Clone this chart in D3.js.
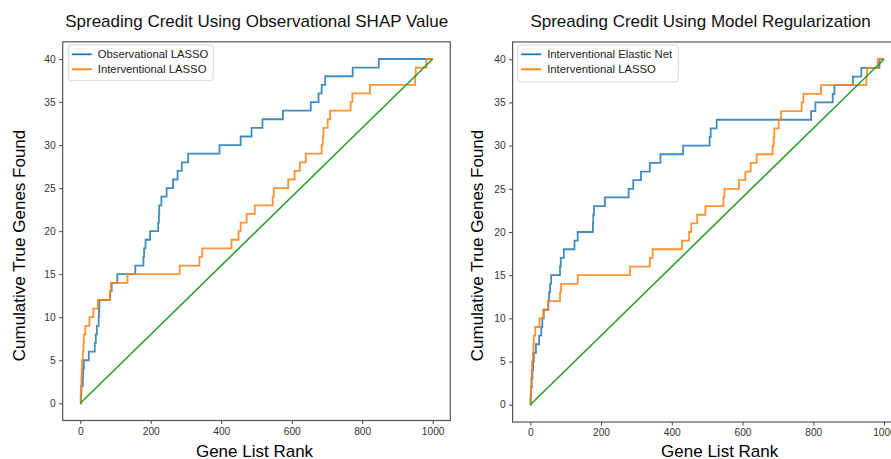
<!DOCTYPE html>
<html>
<head>
<meta charset="utf-8">
<script src="https://cdn.jsdelivr.net/npm/d3@7"></script>
<style>
  html, body { margin: 0; padding: 0; background: #ffffff; }
  svg { display: block; }
  text { font-family: "Liberation Sans", Arial, Helvetica, sans-serif; }
</style>
</head>
<body>
<svg id="chart" width="891" height="459"></svg>
<script>
// ---------------- data ----------------
const xTicks = [0, 200, 400, 600, 800, 1000];
const yTicks = [0, 5, 10, 15, 20, 25, 30, 35, 40];

// rank at which the 1st, 2nd, ... 40th true gene is found
const obsLassoHits = [2, 3, 7, 8, 10, 24, 41, 44, 47, 52, 53, 54, 84, 89, 105, 156,
  179, 181, 185, 198, 221, 223, 224, 230, 245, 263, 276, 288, 306, 395, 455, 486,
  517, 575, 654, 676, 685, 695, 773, 847];
const intLassoHits = [1, 2, 3, 4, 5, 7, 9, 10, 14, 26, 37, 50, 84, 87, 134, 282,
  338, 346, 429, 449, 455, 472, 495, 546, 549, 590, 608, 623, 640, 685, 688, 690,
  702, 709, 767, 772, 822, 950, 952, 982];
const intElasticHits = [1, 2, 4, 6, 8, 10, 16, 25, 31, 34, 38, 51, 53, 56, 59, 84,
  86, 95, 125, 134, 177, 178, 180, 211, 278, 291, 313, 338, 368, 432, 507, 510,
  527, 794, 806, 855, 860, 912, 936, 987];
const totalRanks = 1000;
const randomBaseline = [[0, 0], [1000, 40]];

const leftTitle = "Spreading Credit Using Observational SHAP Value";
const rightTitle = "Spreading Credit Using Model Regularization";
const xLabel = "Gene List Rank";
const yLabel = "Cumulative True Genes Found";
const leftSeriesNames = ["Observational LASSO", "Interventional LASSO"];
const rightSeriesNames = ["Interventional Elastic Net", "Interventional LASSO"];

// ---------------- styles ----------------
const C_BLUE = "#1f77b4", C_ORANGE = "#ff7f0e", C_GREEN = "#2ca02c";

function cumulative(hits) {
  const pts = [[0, 0]];
  hits.forEach((r, i) => pts.push([r, i + 1]));
  pts.push([totalRanks, hits.length]);
  return pts;
}

const svg = d3.select("#chart");

function panel(cfg) {
  const x = d3.scaleLinear().domain([-50, 1050]).range([cfg.x0, cfg.x1]);
  const y = d3.scaleLinear().domain([-2, 42]).range([cfg.y1, cfg.y0]);
  const g = svg.append("g");

  const clipId = "clip" + cfg.id;
  g.append("clipPath").attr("id", clipId).append("rect")
    .attr("x", cfg.x0).attr("y", cfg.y0)
    .attr("width", cfg.x1 - cfg.x0).attr("height", cfg.y1 - cfg.y0);

  const line = d3.line().x(d => x(d[0])).y(d => y(d[1]));
  const stepLine = d3.line().x(d => x(d[0])).y(d => y(d[1])).curve(d3.curveStepAfter);

  const plot = g.append("g").attr("clip-path", `url(#${clipId})`);
  cfg.series.forEach(s => {
    plot.append("path").datum(cumulative(s.hits))
      .attr("d", stepLine).attr("fill", "none")
      .attr("stroke", s.color).attr("stroke-width", 1.8)
      .attr("stroke-linejoin", "miter").attr("stroke-opacity", 0.85);
  });
  plot.append("path").datum(randomBaseline)
    .attr("d", line).attr("fill", "none")
    .attr("stroke", C_GREEN).attr("stroke-width", 1.6);

  // axes
  const fmt = d3.format("d");
  const xAxis = d3.axisBottom(x).tickValues(xTicks).tickFormat(fmt).tickSize(3.5).tickPadding(3.5);
  const yAxis = d3.axisLeft(y).tickValues(yTicks).tickFormat(fmt).tickSize(3.5).tickPadding(3.5);
  const gx = g.append("g").attr("transform", `translate(0,${cfg.y1})`).call(xAxis);
  const gy = g.append("g").attr("transform", `translate(${cfg.x0},0)`).call(yAxis);
  [gx, gy].forEach(a => {
    a.select(".domain").remove();
    a.selectAll(".tick line").attr("stroke", "#444").attr("stroke-width", 1);
    a.selectAll(".tick text").attr("fill", "#333").style("font-size", "10.2px")
      .style("font-family", "'Liberation Sans', Arial, sans-serif");
  });

  // frame
  g.append("rect").attr("x", cfg.x0).attr("y", cfg.y0)
    .attr("width", cfg.x1 - cfg.x0).attr("height", cfg.y1 - cfg.y0)
    .attr("fill", "none").attr("stroke", "#555").attr("stroke-width", 1.2);

  // legend
  const L = cfg.legend;
  g.append("rect").attr("x", L.x).attr("y", L.y).attr("width", L.w).attr("height", L.h)
    .attr("rx", 3).attr("fill", "#ffffff").attr("fill-opacity", 0.85)
    .attr("stroke", "#d8d8d8").attr("stroke-width", 1);
  cfg.series.forEach((s, i) => {
    const ly = L.y + 9.3 + i * 15;
    g.append("line").attr("x1", L.x + 3.5).attr("x2", L.x + 23.5)
      .attr("y1", ly).attr("y2", ly)
      .attr("stroke", s.color).attr("stroke-width", 1.8);
    g.append("text").attr("x", L.x + 29.5).attr("y", ly + 4)
      .style("font-size", "11.3px").attr("fill", "#222").text(s.name);
  });

  // titles and labels
  g.append("text").attr("x", cfg.titleX).attr("y", 26.7).attr("text-anchor", "middle")
    .style("font-size", "17px").attr("fill", "#111").text(cfg.title);
  g.append("text").attr("x", cfg.xLabelX).attr("y", 456.5).attr("text-anchor", "middle")
    .style("font-size", "17px").attr("fill", "#000").text(xLabel);
  g.append("text").attr("transform", `translate(${cfg.yLabelX},245.5) rotate(-90)`)
    .attr("text-anchor", "middle")
    .style("font-size", "17px").attr("fill", "#000").text(yLabel);
}

panel({
  id: "L", x0: 62.7, x1: 450.3, y0: 41.8, y1: 420.5,
  title: leftTitle, titleX: 256.7, xLabelX: 254.5, yLabelX: 24.5,
  series: [
    { name: leftSeriesNames[0], hits: obsLassoHits, color: C_BLUE },
    { name: leftSeriesNames[1], hits: intLassoHits, color: C_ORANGE }
  ],
  legend: { x: 68.3, y: 45, w: 145, h: 35.7 }
});

panel({
  id: "R", x0: 512.6, x1: 901.7, y0: 42, y1: 422,
  title: rightTitle, titleX: 700.5, xLabelX: 719.7, yLabelX: 483,
  series: [
    { name: rightSeriesNames[0], hits: intElasticHits, color: C_BLUE },
    { name: rightSeriesNames[1], hits: intLassoHits, color: C_ORANGE }
  ],
  legend: { x: 517.7, y: 45, w: 160.6, h: 37 }
});
</script>
</body>
</html>
